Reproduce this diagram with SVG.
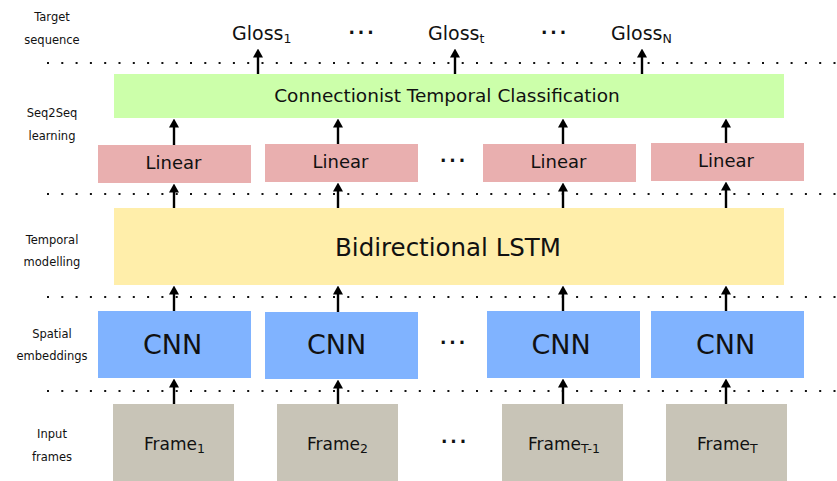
<svg xmlns="http://www.w3.org/2000/svg" width="837" height="481" viewBox="0 0 837 481">
<style>
text{font-family:"DejaVu Sans","Liberation Sans",sans-serif;fill:#111}
.lbl{font-size:11.5px;text-anchor:middle}
.dots{fill:none;stroke:#111;stroke-width:2;stroke-dasharray:2 12.3}
.arr{fill:none;stroke:#000;stroke-width:2.4;marker-end:url(#ah)}
.ctc{fill:#ccffaa}
.lin{fill:#e9afaf}
.lstm{fill:#ffeeaa}
.cnn{fill:#80b3ff}
.frm{fill:#c8c4b7}
.mid{text-anchor:middle}
.ell{font-weight:bold;font-size:17px;letter-spacing:2.9px}
.sub{font-size:12.5px}
</style>
<defs>
<marker id="ah" viewBox="0 0 9 10" refX="0.5" refY="5" markerWidth="9" markerHeight="10" markerUnits="userSpaceOnUse" orient="auto">
<path d="M0,0 L9,5 L0,10 z" fill="#000"/>
</marker>
</defs>

<g id="layer-labels">
<text class="lbl" x="52" y="21">Target</text>
<text class="lbl" x="52" y="44">sequence</text>
<text class="lbl" x="52" y="117">Seq2Seq</text>
<text class="lbl" x="52" y="139.5">learning</text>
<text class="lbl" x="52" y="243.5">Temporal</text>
<text class="lbl" x="52" y="266">modelling</text>
<text class="lbl" x="52" y="337.5">Spatial</text>
<text class="lbl" x="52" y="359.5">embeddings</text>
<text class="lbl" x="52" y="437.5">Input</text>
<text class="lbl" x="52" y="460.5">frames</text>
</g>

<g id="separators">
<line class="dots" x1="47" y1="63" x2="837" y2="63"/>
<line class="dots" x1="47" y1="194" x2="837" y2="194"/>
<line class="dots" x1="47" y1="297" x2="837" y2="297"/>
<line class="dots" x1="47" y1="391" x2="837" y2="391"/>
</g>

<g id="gloss1"><text x="232" y="39.5" font-size="19px">Gloss<tspan class="sub" dy="3">1</tspan></text></g>
<g id="glosst"><text x="428" y="39.5" font-size="19px">Gloss<tspan class="sub" dy="3">t</tspan></text></g>
<g id="glossN"><text x="611" y="39.5" font-size="19px">Gloss<tspan class="sub" dy="3">N</tspan></text></g>
<g id="ellipses">
<text class="ell" x="348.5" y="34">...</text>
<text class="ell" x="541" y="34">...</text>
<text class="ell" x="440" y="162">...</text>
<text class="ell" x="440" y="343.5">...</text>
<text class="ell" x="441" y="442.5">...</text>
</g>

<g id="ctc"><rect class="ctc" x="114" y="74" width="670" height="44"/><text class="mid" x="447" y="102" font-size="18.5px">Connectionist Temporal Classification</text></g>

<g id="linear1"><rect class="lin" x="98" y="145" width="153" height="38"/><text class="mid" x="173.5" y="168.5" font-size="18px">Linear</text></g>
<g id="linear2"><rect class="lin" x="265" y="144" width="153" height="38"/><text class="mid" x="340.5" y="167.5" font-size="18px">Linear</text></g>
<g id="linear3"><rect class="lin" x="483" y="144" width="153" height="38"/><text class="mid" x="558.5" y="167.5" font-size="18px">Linear</text></g>
<g id="linear4"><rect class="lin" x="651" y="143" width="153" height="38"/><text class="mid" x="726" y="166.5" font-size="18px">Linear</text></g>

<g id="lstm"><rect class="lstm" x="114" y="208" width="670" height="77"/><text class="mid" x="448" y="256" font-size="24.5px">Bidirectional LSTM</text></g>

<g id="cnn1"><rect class="cnn" x="98" y="311" width="153" height="67"/><text class="mid" x="172.5" y="354" font-size="27px">CNN</text></g>
<g id="cnn2"><rect class="cnn" x="265" y="312" width="153" height="67"/><text class="mid" x="336.5" y="354" font-size="27px">CNN</text></g>
<g id="cnn3"><rect class="cnn" x="487" y="311" width="153" height="67"/><text class="mid" x="561" y="354" font-size="27px">CNN</text></g>
<g id="cnn4"><rect class="cnn" x="651" y="311" width="153" height="67"/><text class="mid" x="725.5" y="354" font-size="27px">CNN</text></g>

<g id="frame1"><rect class="frm" x="113" y="404" width="121" height="77"/><text x="144" y="449.5" font-size="17px">Frame<tspan class="sub" dy="3">1</tspan></text></g>
<g id="frame2"><rect class="frm" x="277" y="404" width="121" height="77"/><text x="307" y="449.5" font-size="17px">Frame<tspan class="sub" dy="3">2</tspan></text></g>
<g id="frame3"><rect class="frm" x="502" y="404" width="121" height="77"/><text x="528" y="449.5" font-size="17px">Frame<tspan class="sub" dy="3">T-1</tspan></text></g>
<g id="frame4"><rect class="frm" x="666" y="404" width="121" height="77"/><text x="697" y="449.5" font-size="17px">Frame<tspan class="sub" dy="3">T</tspan></text></g>

<g id="connectors">
<line class="arr" x1="174" y1="404" x2="174" y2="387"/>
<line class="arr" x1="338" y1="404" x2="338" y2="388"/>
<line class="arr" x1="563" y1="404" x2="563" y2="387"/>
<line class="arr" x1="726" y1="404" x2="726" y2="387"/>
<line class="arr" x1="174" y1="311" x2="174" y2="294"/>
<line class="arr" x1="338" y1="312" x2="338" y2="294"/>
<line class="arr" x1="563" y1="311" x2="563" y2="294"/>
<line class="arr" x1="726" y1="311" x2="726" y2="294"/>
<line class="arr" x1="174" y1="208" x2="174" y2="192"/>
<line class="arr" x1="338" y1="208" x2="338" y2="191"/>
<line class="arr" x1="563" y1="208" x2="563" y2="191"/>
<line class="arr" x1="726" y1="208" x2="726" y2="190"/>
<line class="arr" x1="174" y1="145" x2="174" y2="127"/>
<line class="arr" x1="338" y1="144" x2="338" y2="127"/>
<line class="arr" x1="563" y1="144" x2="563" y2="127"/>
<line class="arr" x1="726" y1="143" x2="726" y2="127"/>
<line class="arr" x1="258" y1="74" x2="258" y2="57"/>
<line class="arr" x1="455" y1="74" x2="455" y2="57"/>
<line class="arr" x1="642" y1="74" x2="642" y2="57"/>
</g>
</svg>
